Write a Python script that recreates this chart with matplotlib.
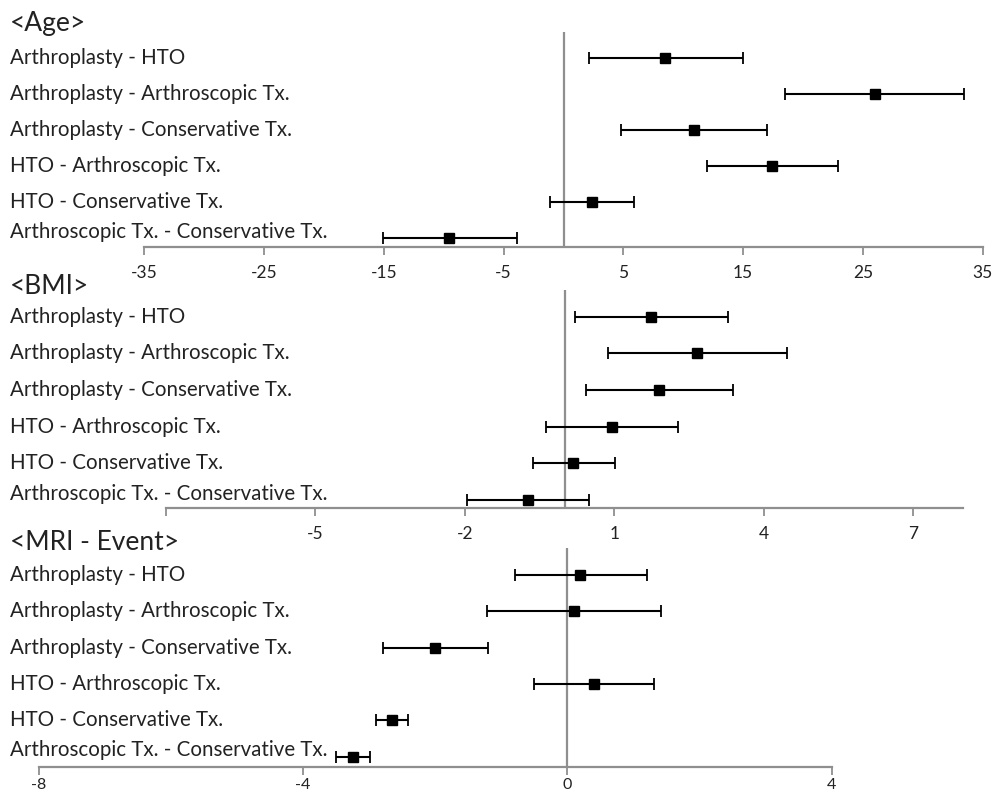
import matplotlib.pyplot as plt
from matplotlib.transforms import blended_transform_factory

plt.rcParams['font.family'] = ['Lato', 'DejaVu Sans']

comparisons = [
    "Arthroplasty - HTO",
    "Arthroplasty - Arthroscopic Tx.",
    "Arthroplasty - Conservative Tx.",
    "HTO - Arthroscopic Tx.",
    "HTO - Conservative Tx.",
    "Arthroscopic Tx. - Conservative Tx.",
]

# Age
age_est = [8.5, 26.0, 10.9, 17.4, 2.4, -9.6]
age_lo = [2.1, 18.5, 4.8, 12.0, -1.1, -15.1]
age_hi = [15.0, 33.4, 17.0, 22.9, 5.9, -3.9]
age_ticks = [-35, -25, -15, -5, 5, 15, 25, 35]
age_ticklabels = ["-35", "-25", "-15", "-5", "5", "15", "25", "35"]

# BMI
bmi_est = [1.73, 2.67, 1.90, 0.95, 0.18, -0.73]
bmi_lo = [0.21, 0.88, 0.43, -0.37, -0.64, -1.96]
bmi_hi = [3.29, 4.46, 3.39, 2.27, 1.01, 0.49]
bmi_ticks = [-8, -5, -2, 1, 4, 7]
bmi_ticklabels = ["", "-5", "-2", "1", "4", "7"]

# MRI - Event
mri_est = [0.19, 0.10, -2.01, 0.40, -2.65, -3.25]
mri_lo = [-0.80, -1.21, -2.79, -0.50, -2.90, -3.50]
mri_hi = [1.21, 1.41, -1.20, 1.31, -2.41, -2.99]
mri_ticks = [-8, -4, 0, 4]
mri_ticklabels = ["-8", "-4", "0", "4"]

W, H = 993, 796
fig = plt.figure(figsize=(W / 100, H / 100), dpi=100)

panels = [
    # title, est, lo, hi, ticks, labels, xlim, (x0, x1, ytop, ybot) px, title y px, pads, tick label pad/size
    ("<Age>", age_est, age_lo, age_hi, age_ticks, age_ticklabels, (-35, 35),
     (144.3, 982.7, 31.7, 247.3), 24, (0.25, 0.74), (7, 12.5)),
    ("<BMI>", bmi_est, bmi_lo, bmi_hi, bmi_ticks, bmi_ticklabels, (-8, 8),
     (166, 963, 290, 508), 286, (0.22, 0.73), (7, 12.5)),
    ("<MRI - Event>", mri_est, mri_lo, mri_hi, mri_ticks, mri_ticklabels, (-8, 4),
     (38.7, 831.7, 548.3, 766.7), 543, (0.28, 0.73), (2, 11.5)),
]

grey = "#8f8f8f"
for title, est, lo, hi, ticks, tlabels, xlim, box, ty, pads, tk in panels:
    x0, x1, yt, yb = box
    ax = fig.add_axes([x0 / W, 1 - yb / H, (x1 - x0) / W, (yb - yt) / H])
    ax.patch.set_alpha(0)
    n = len(est)
    ys = list(range(n))
    err = [[e - l for e, l in zip(est, lo)], [h - e for e, h in zip(est, hi)]]
    ax.axvline(0, color=grey, lw=1.6, zorder=1)
    ax.errorbar(est, ys, xerr=err, fmt='s', color='black', ms=6.5, lw=1.5,
                capsize=4, capthick=1.3, zorder=3)
    ax.set_xlim(*xlim)
    ax.set_ylim(n - 1 + pads[0], -pads[1])
    for s in ['left', 'right', 'top']:
        ax.spines[s].set_visible(False)
    ax.spines['bottom'].set_color(grey)
    ax.spines['bottom'].set_linewidth(1.6)
    ax.set_yticks([])
    ax.set_xticks(ticks)
    ax.set_xticklabels(tlabels)
    ax.tick_params(axis='x', direction='out', length=6, width=1.3, color=grey,
                   labelsize=tk[1], pad=tk[0], labelcolor='#222222')

    tr = blended_transform_factory(fig.transFigure, ax.transData)
    for i, lab in enumerate(comparisons):
        yy = i - 0.17 if i == n - 1 else i
        ax.text(10 / W, yy, lab, transform=tr, ha='left', va='center',
                fontsize=14.8, color='#222222', clip_on=False)
    fig.text(10 / W, 1 - ty / H, title, ha='left', va='center', fontsize=19,
             color='#222222')

fig.savefig("out.png", dpi=100)
